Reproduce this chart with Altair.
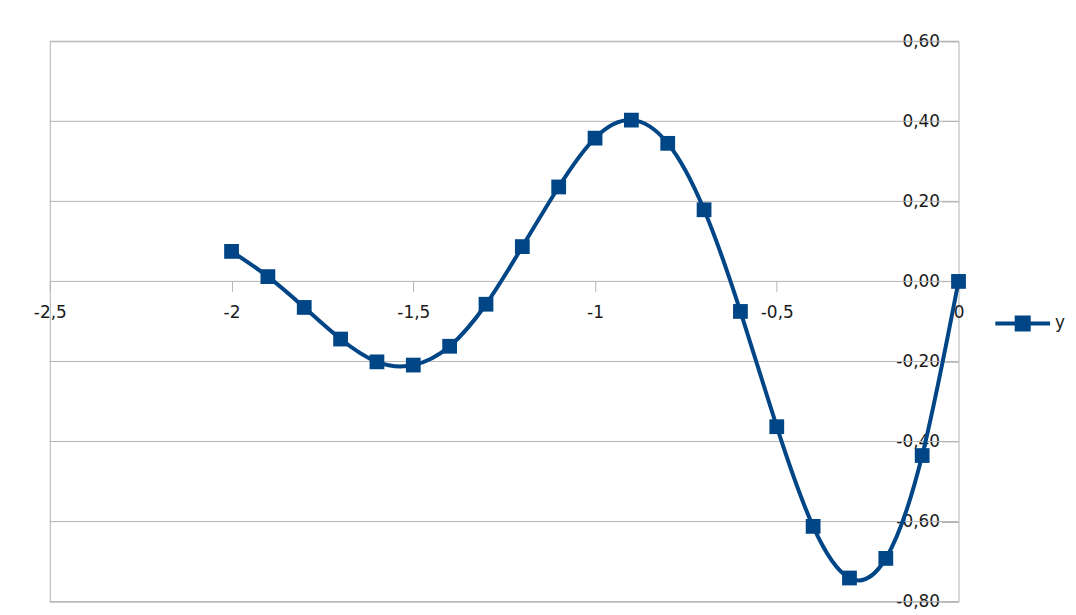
import altair as alt
import pandas as pd

# ---- data ----
x_vals = [-2.0, -1.9, -1.8, -1.7, -1.6, -1.5, -1.4, -1.3, -1.2, -1.1, -1.0,
          -0.9, -0.8, -0.7, -0.6, -0.5, -0.4, -0.3, -0.2, -0.1, 0.0]
y_vals = [0.075, 0.012, -0.065, -0.144, -0.201, -0.209, -0.162, -0.057, 0.087, 0.236, 0.358,
          0.403, 0.345, 0.179, -0.075, -0.363, -0.612, -0.741, -0.692, -0.435, 0.0]
x_ticks = [-2.5, -2.0, -1.5, -1.0, -0.5, 0.0]
y_ticks = [-0.8, -0.6, -0.4, -0.2, 0.0, 0.2, 0.4, 0.6]
series_name = "y"

BLUE = "#004586"
GRID = "#b3b3b3"
FONT = "DejaVu Sans"

W, H = 913, 563
x_dom = [-2.5, 0.0]
y_dom = [-0.8, 0.6]

df = pd.DataFrame({"x": x_vals, "y": y_vals, "series": [series_name] * len(x_vals)})
grid_df = pd.DataFrame({"y": y_ticks})

xscale = alt.Scale(domain=x_dom, nice=False, zero=False)
yscale = alt.Scale(domain=y_dom, nice=False, zero=False)

x_offset = -H * (0 - y_dom[0]) / (y_dom[1] - y_dom[0])
y_offset = -W * (0 - x_dom[0]) / (x_dom[1] - x_dom[0])

x_axis = alt.Axis(orient="bottom", offset=x_offset, values=x_ticks,
                  grid=False, domain=False, tickSize=10, tickColor=GRID,
                  labelPadding=13, labelFlush=False, labelOverlap=False,
                  labelExpr="replace(replace(toString(datum.value), '.', ','), '\u2212', '-')")
y_axis = alt.Axis(orient="left", offset=y_offset, values=y_ticks,
                  grid=False, domain=False, tickSize=17, tickColor=GRID,
                  labelPadding=2, labelOverlap=False,
                  labelExpr="replace(replace(format(datum.value, '.2f'), '.', ','), '\u2212', '-')")

X = alt.X("x:Q", scale=xscale, title=None, axis=x_axis)
Y = alt.Y("y:Q", scale=yscale, title=None, axis=y_axis)

grid = alt.Chart(grid_df).mark_rule(color=GRID, strokeWidth=1).encode(y=Y)

legend_path = "M-1,0H1M-0.22,-0.22H0.22V0.22H-0.22Z"

line = alt.Chart(df).mark_line(interpolate="natural", strokeWidth=4).encode(
    x=X, y=Y,
    color=alt.Color("series:N", scale=alt.Scale(domain=[series_name], range=[BLUE]),
                    legend=alt.Legend(title=None, orient="none", legendX=948, legendY=254,
                                      symbolType=legend_path, symbolSize=3025,
                                      symbolStrokeWidth=4, symbolFillColor=BLUE,
                                      symbolStrokeColor=BLUE,
                                      labelOffset=3, padding=0)),
)

points = alt.Chart(df).mark_point(shape="square", filled=True, size=220, color=BLUE, opacity=1).encode(
    x=X, y=Y,
)

chart = alt.layer(grid, line, points).properties(
    width=W, height=H,
    autosize=alt.AutoSizeParams(type="none"),
    padding={"left": 42, "top": 32, "right": 110, "bottom": 8},
).configure_view(
    stroke=GRID, strokeWidth=1
).configure_axis(
    labelFont=FONT, labelFontSize=17, labelColor="#1a1a1a"
).configure_legend(
    labelFont=FONT, labelFontSize=17, labelColor="#1a1a1a"
)

chart.save("out.html", embed_options={"renderer": "svg", "actions": False})
